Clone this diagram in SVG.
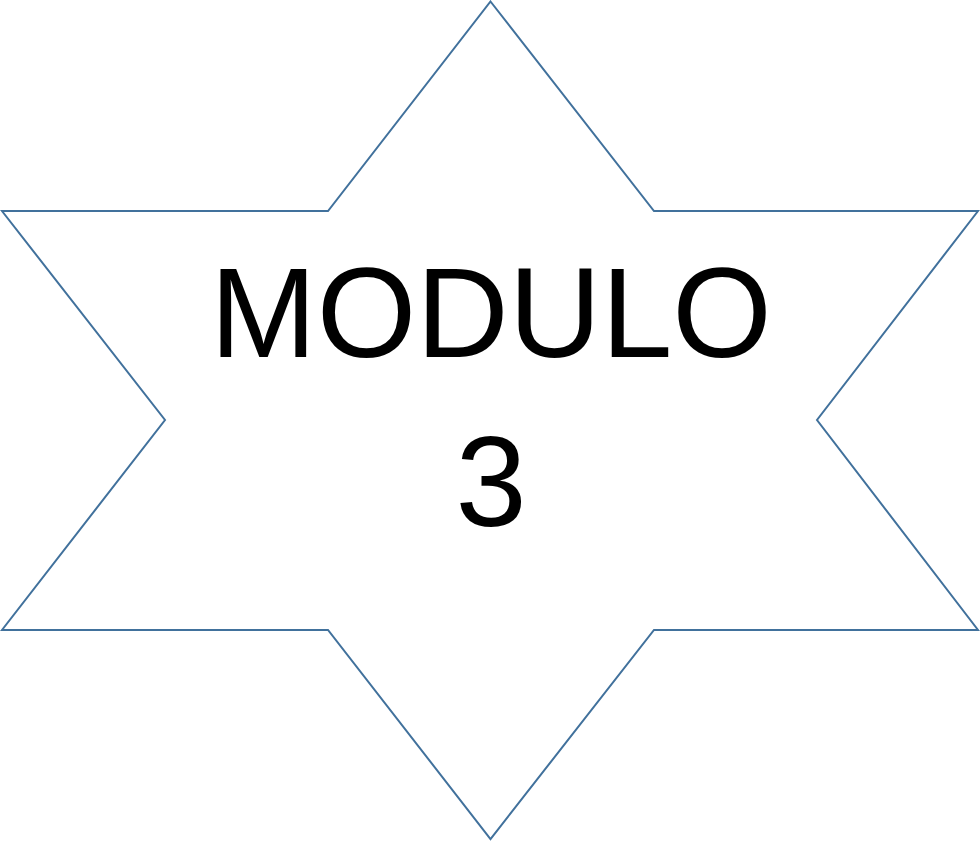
<svg xmlns="http://www.w3.org/2000/svg" width="980" height="846" viewBox="0 0 980 846">
<style>
.star{fill:#ffffff;stroke:#41719c;stroke-width:2;stroke-linejoin:miter}
.lbl{font-family:"Liberation Sans",Arial,sans-serif;font-size:128px;fill:#000000;text-anchor:middle}
</style>
<rect width="980" height="846" fill="#ffffff"/>
<g id="star-node">
<polygon class="star" points="490.5,1.5 654,211 978,211 817,420 978,630 654,630 490.5,839 328,630 2,630 165,420 2,211 328,211"/>
<text class="lbl" x="491" y="357">MODULO</text>
<text class="lbl" x="491" y="526">3</text>
</g>
</svg>
